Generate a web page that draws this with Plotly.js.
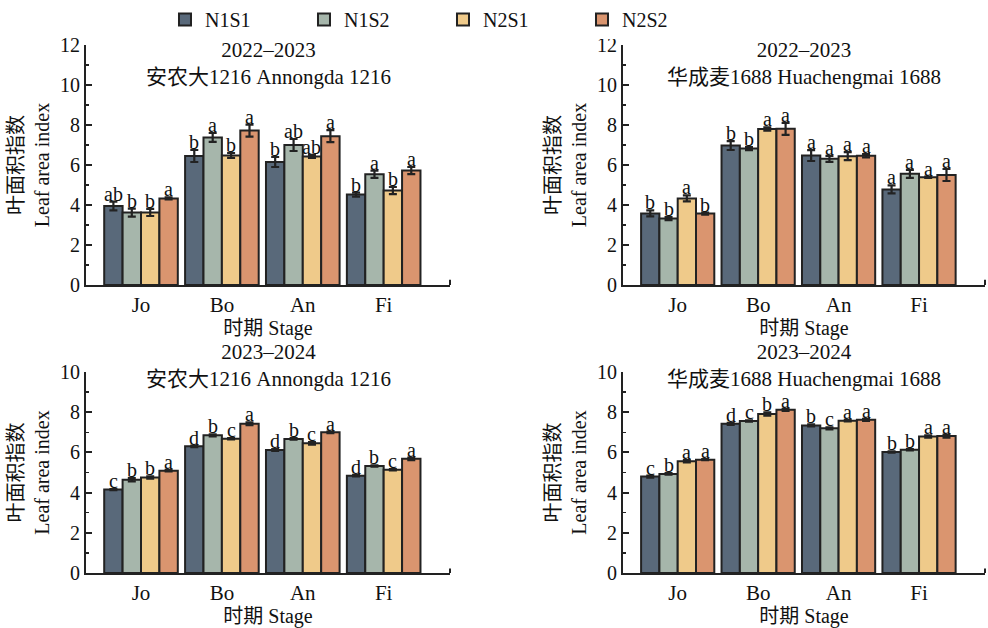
<!DOCTYPE html>
<html>
<head>
<meta charset="utf-8">
<script src="https://cdn.plot.ly/plotly-3.0.1.min.js"></script>
<style>html,body{margin:0;padding:0;background:#fff;}#chart{width:988px;height:628px;}</style>
</head>
<body>
<div id="chart"></div>
<script>
// ---- data ----
const stages = ['Jo', 'Bo', 'An', 'Fi'];
const seriesNames = ['N1S1', 'N1S2', 'N2S1', 'N2S2'];
const colors = ['#59697a', '#a6b6ab', '#efca8a', '#da956f'];

const panelTitles = [
  '2022–2023<br>安农大1216 Annongda 1216',
  '2022–2023<br>华成麦1688 Huachengmai 1688',
  '2023–2024<br>安农大1216 Annongda 1216',
  '2023–2024<br>华成麦1688 Huachengmai 1688'
];

// panel 1: 2022-2023 Annongda 1216
const p1_N1S1 = [3.95, 6.45, 6.15, 4.52];
const p1_N1S2 = [3.62, 7.38, 7.00, 5.54];
const p1_N2S1 = [3.63, 6.48, 6.43, 4.72];
const p1_N2S2 = [4.33, 7.72, 7.44, 5.72];
const p1_err = [[0.22, 0.30, 0.25, 0.10], [0.20, 0.22, 0.30, 0.18], [0.18, 0.12, 0.08, 0.18], [0.05, 0.30, 0.30, 0.18]];
const p1_letters = [['ab', 'b', 'b', 'b'], ['b', 'a', 'ab', 'a'], ['b', 'b', 'ab', 'b'], ['a', 'a', 'a', 'a']];

// panel 2: 2022-2023 Huachengmai 1688
const p2_N1S1 = [3.58, 6.97, 6.47, 4.78];
const p2_N1S2 = [3.32, 6.82, 6.31, 5.56];
const p2_N2S1 = [4.33, 7.80, 6.44, 5.39];
const p2_N2S2 = [3.57, 7.81, 6.46, 5.50];
const p2_err = [[0.15, 0.22, 0.27, 0.20], [0.08, 0.08, 0.15, 0.20], [0.15, 0.08, 0.20, 0.03], [0.05, 0.30, 0.08, 0.30]];
const p2_letters = [['b', 'b', 'a', 'a'], ['b', 'b', 'a', 'a'], ['a', 'a', 'a', 'a'], ['b', 'a', 'a', 'a']];

// panel 3: 2023-2024 Annongda 1216
const p3_N1S1 = [4.15, 6.30, 6.12, 4.84];
const p3_N1S2 = [4.64, 6.85, 6.67, 5.32];
const p3_N2S1 = [4.75, 6.68, 6.45, 5.14];
const p3_N2S2 = [5.09, 7.43, 7.00, 5.68];
const p3_err = [[0.03, 0.04, 0.05, 0.04], [0.08, 0.05, 0.04, 0.03], [0.06, 0.03, 0.06, 0.03], [0.04, 0.07, 0.04, 0.06]];
const p3_letters = [['c', 'd', 'd', 'd'], ['b', 'b', 'b', 'b'], ['b', 'c', 'c', 'c'], ['a', 'a', 'a', 'a']];

// panel 4: 2023-2024 Huachengmai 1688
const p4_N1S1 = [4.80, 7.42, 7.34, 6.02];
const p4_N1S2 = [4.93, 7.56, 7.20, 6.13];
const p4_N2S1 = [5.56, 7.91, 7.58, 6.79];
const p4_N2S2 = [5.64, 8.12, 7.62, 6.81];
const p4_err = [[0.05, 0.05, 0.05, 0.03], [0.04, 0.03, 0.05, 0.03], [0.06, 0.08, 0.04, 0.06], [0.03, 0.05, 0.05, 0.08]];
const p4_letters = [['c', 'd', 'b', 'b'], ['b', 'c', 'c', 'b'], ['a', 'b', 'a', 'a'], ['a', 'a', 'a', 'a']];

const yTitle = '叶面积指数<br>Leaf area index';
const xTitle = '时期 Stage';

// ---- build ----
const FONT = 'Liberation Serif, "Noto Sans CJK SC", serif';
const panels = [
  {vals: [p1_N1S1, p1_N1S2, p1_N2S1, p1_N2S2], err: p1_err, letters: p1_letters, ymax: 12},
  {vals: [p2_N1S1, p2_N1S2, p2_N2S1, p2_N2S2], err: p2_err, letters: p2_letters, ymax: 12},
  {vals: [p3_N1S1, p3_N1S2, p3_N2S1, p3_N2S2], err: p3_err, letters: p3_letters, ymax: 10},
  {vals: [p4_N1S1, p4_N1S2, p4_N2S1, p4_N2S2], err: p4_err, letters: p4_letters, ymax: 10}
];
const bargap = 0.09;
const W = 988, H = 628;
const xDom = [[86 / W, 450 / W], [623 / W, 985 / W]];
const yDom = [[1 - 285 / H, 1 - 45 / H], [1 - 573 / H, 1 - 372 / H]];

const traces = [];
const annotations = [];
const shapes = [];
const layout = {
  width: W, height: H,
  margin: {l: 0, r: 0, t: 0, b: 0},
  paper_bgcolor: '#fff', plot_bgcolor: 'rgba(0,0,0,0)',
  font: {family: FONT, size: 20, color: '#111'},
  barmode: 'group', bargap: bargap, bargroupgap: 0,
  showlegend: true,
  legend: {orientation: 'h', x: 0.167, y: 1.0, xanchor: 'left', yanchor: 'top',
           entrywidth: 94, entrywidthmode: 'pixels', font: {size: 20, family: FONT}, traceorder: 'normal'},
  annotations: annotations,
  shapes: shapes
};

panels.forEach((p, k) => {
  const ax = k === 0 ? '' : String(k + 1);
  const col = k % 2, row = Math.floor(k / 2);
  p.vals.forEach((v, i) => {
    traces.push({
      type: 'bar', x: stages, y: v, name: seriesNames[i],
      xaxis: 'x' + ax, yaxis: 'y' + ax,
      legendgroup: seriesNames[i], showlegend: k === 0,
      marker: {color: colors[i], line: {color: '#222', width: 2}},
      error_y: {type: 'data', array: p.err[i], visible: true, color: '#222', thickness: 2.2, width: 4},
      hoverinfo: 'skip'
    });
    const w = (1 - bargap) / 4;
    v.forEach((val, j) => {
      annotations.push({
        xref: 'x' + ax, yref: 'y' + ax, x: j + (i - 1.5) * w, y: val + p.err[i][j],
        text: p.letters[i][j], showarrow: false, yanchor: 'bottom', yshift: -5,
        font: {size: 20, family: FONT, color: '#111'}
      });
    });
  });
  layout['xaxis' + ax] = {
    domain: xDom[col], anchor: 'y' + ax, type: 'category',
    range: [-0.68, 3.82], showline: true, linecolor: '#222', linewidth: 2,
    ticks: '', showgrid: false, zeroline: false,
    tickfont: {size: 21, family: FONT},
    title: {text: xTitle, font: {size: 20, family: FONT}, standoff: 2}
  };
  layout['yaxis' + ax] = {
    domain: yDom[row], anchor: 'x' + ax, range: [0, p.ymax], dtick: 2,
    showline: true, linecolor: '#222', linewidth: 2,
    ticks: 'inside', ticklen: 6, tickwidth: 2, tickcolor: '#222',
    minor: {ticks: 'inside', ticklen: 3, tickwidth: 1.5, dtick: 1, tickcolor: '#222'},
    showgrid: false, zeroline: false,
    tickfont: {size: 20, family: FONT},
    title: {text: yTitle, font: {size: 20, family: FONT}, standoff: 5}
  };
  annotations.push({
    xref: 'x' + ax + ' domain', yref: 'y' + ax + ' domain', x: 0.5, y: 1.0,
    yanchor: row === 0 ? 'top' : 'bottom', yshift: row === 0 ? 9 : -21,
    text: panelTitles[k], showarrow: false,
    font: {size: 21, family: FONT, color: '#111'}
  });
  shapes.push({
    type: 'line', xref: 'x' + ax + ' domain', yref: 'y' + ax + ' domain',
    x0: 1, x1: 1, y0: 0, y1: 0.022, line: {color: '#222', width: 2}
  });
});

Plotly.newPlot('chart', traces, layout, {staticPlot: true});
</script>
</body>
</html>
